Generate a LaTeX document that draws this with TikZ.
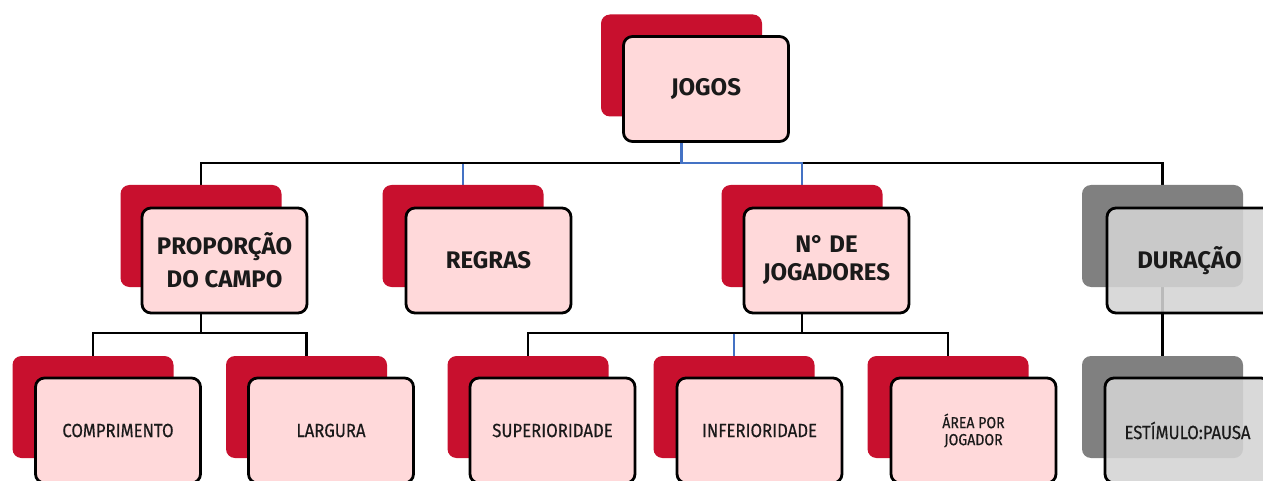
\documentclass[tikz,border=0pt]{standalone}
\usepackage{fontspec}
\setmainfont{Fira Sans}
\newfontfamily\condfont{Fira Sans}[FakeStretch=0.88, FakeBold=0.5]
\usetikzlibrary{backgrounds}
\definecolor{cardred}{HTML}{C8102E}
\definecolor{cardpink}{HTML}{FFD9DA}
\definecolor{cardgray}{HTML}{808080}
\definecolor{cardlight}{HTML}{D4D4D4}
\definecolor{connblue}{HTML}{4472C4}
\definecolor{textdark}{HTML}{1A1A1A}
\tikzset{
  backbox/.style={rectangle, rounded corners=9pt, fill=cardred, minimum width=161pt, minimum height=102pt, inner sep=0pt},
  backgray/.style={backbox, fill=cardgray},
  frontbox/.style={rectangle, rounded corners=9pt, draw=black, line width=2.8pt, fill=cardpink, minimum width=165pt, minimum height=105pt, text=textdark, align=center, inner sep=0pt},
  frontgray/.style={frontbox, fill=cardlight, fill opacity=0.88, text opacity=1},
  bigtext/.style={font=\fontsize{24}{30}\selectfont\bfseries},
  smalltext/.style={font=\condfont\fontsize{19}{22}\selectfont},
  conn/.style={draw=black, line width=2.8pt},
  blueconn/.style={draw=connblue, line width=2.2pt}
}
\begin{document}
\begin{tikzpicture}[x=1pt,y=-1pt]
\useasboundingbox (0,0) rectangle (1263,481);
\clip (0,0) rectangle (1263,481);
\coordinate (busA) at (0,163);
\coordinate (busB) at (0,333);
% level 1
\node[backbox] (jogos-b) at (681.5,65.5) {};
\node[frontbox, bigtext] (jogos) at (706,89) {JOGOS};
% level 2
\node[backbox] (prop-b) at (201,236) {};
\node[frontbox, font=\fontsize{24}{33}\selectfont\bfseries] (prop) at (224.5,260.5) {PROPORÇÃO\\DO CAMPO};
\node[backbox] (regras-b) at (463,236) {};
\node[frontbox, bigtext] (regras) at (488.5,260.5) {REGRAS};
\node[backbox] (nde-b) at (802,236) {};
\node[frontbox, font=\fontsize{24}{28}\selectfont\bfseries] (nde) at (826.5,260.5) {N° DE\\JOGADORES};
\node[backgray] (dur-b) at (1162.5,236) {};
% level 3
\node[backbox] (comp-b) at (93,407) {};
\node[frontbox, smalltext] (comp) at (118,430.5) {COMPRIMENTO};
\node[backbox] (larg-b) at (306.5,407) {};
\node[frontbox, smalltext] (larg) at (331,430.5) {LARGURA};
\node[backbox] (sup-b) at (528,407) {};
\node[frontbox, smalltext] (sup) at (552.5,430.5) {SUPERIORIDADE};
\node[backbox] (inf-b) at (734,407) {};
\node[frontbox, smalltext] (inf) at (759.5,430.5) {INFERIORIDADE};
\node[backbox] (area-b) at (948,407) {};
\node[frontbox, font=\condfont\fontsize{16}{17}\selectfont] (area) at (973.5,430.5) {ÁREA POR\\JOGADOR};
\node[backgray] (est-b) at (1162.5,407) {};
\node[frontgray, smalltext] (est) at (1187.5,430.5) {ESTÍMULO:PAUSA};
\node[frontgray, bigtext] (dur) at (1189.5,260.5) {DURAÇÃO};
% connectors
\begin{scope}[on background layer]
\fill[white] (0,0) rectangle (1263,481);
\draw[blueconn] (jogos-b.south) -- (jogos-b.south |- busA) -| (regras-b.north);
\draw[conn] (jogos-b.south) -- (jogos-b.south |- busA) -| (prop-b.north);
\draw[conn] (jogos-b.south) -- (jogos-b.south |- busA) -| (dur-b.north);
\draw[blueconn] (jogos-b.south) -- (jogos-b.south |- busA) -| (nde-b.north);
\draw[conn] (prop-b.south) -- (prop-b.south |- busB) -| (comp-b.north);
\draw[conn] (prop-b.south) -- (prop-b.south |- busB) -| (larg-b.north);
\draw[blueconn] (nde-b.south) -- (nde-b.south |- busB) -| (inf-b.north);
\draw[conn] (nde-b.south) -- (nde-b.south |- busB) -| (sup-b.north);
\draw[conn] (nde-b.south) -- (nde-b.south |- busB) -| (area-b.north);
\draw[conn] (dur-b.south) -- (est-b.north);
\end{scope}
\end{tikzpicture}
\end{document}
